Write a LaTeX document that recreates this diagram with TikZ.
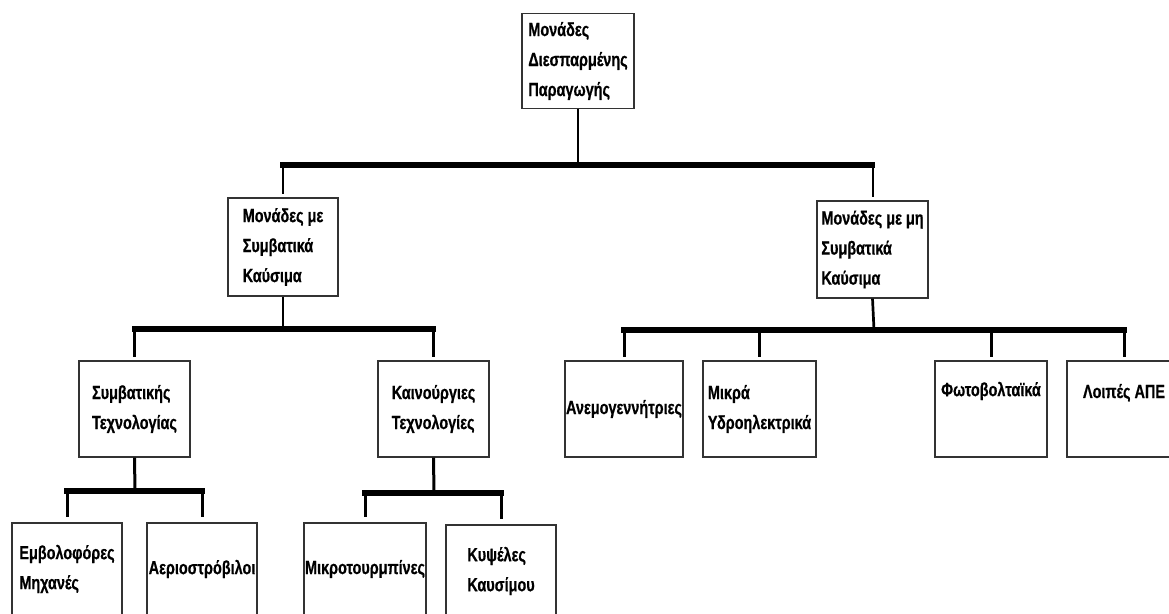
\documentclass[tikz,border=0pt]{standalone}
\usepackage{fontspec}
\setmainfont{Liberation Sans}[FakeStretch=0.76,BoldFont={Liberation Sans Bold},BoldFeatures={FakeStretch=0.76,FakeBold=0.6}]
\usepackage{tikz}

\begin{document}
\begin{tikzpicture}[x=1pt,y=-1pt,font=\fontsize{19}{30}\selectfont\bfseries]
		\useasboundingbox (0,0) rectangle (1169,613);
		\clip (0,0) rectangle (1169,613);
		\tikzstyle{Unit}=[draw=black!80,line width=1.2pt,rectangle,align=left,inner sep=2pt,minimum width=111,minimum height=96]
		\tikzstyle{Stem}=[line width=2pt]
		\tikzstyle{Drop}=[line width=3pt]
		\tikzstyle{Bar}=[line width=5.5pt,line cap=rect]
		% top
		\node[Unit,minimum width=112,minimum height=95] (MDP) at (578,61) {Μονάδες\\Διεσπαρμένης\\Παραγωγής};
		% first level
		\node[Unit,minimum width=110,minimum height=98] (MSK) at (283,247) {Μονάδες με\\Συμβατικά\\Καύσιμα};
		\node[Unit,minimum height=97] (MMSK) at (872.5,249.5) {Μονάδες με μη\\Συμβατικά\\Καύσιμα};
		% second level
		\node[Unit] (ST) at (134.5,409) {Συμβατικής\\Τεχνολογίας};
		\node[Unit] (KT) at (433.5,409) {Καινούργιες\\Τεχνολογίες};
		\node[Unit,minimum width=118,inner sep=0pt] (AN) at (624,409) {Ανεμογεννήτριες};
		\node[Unit,minimum width=113,inner sep=0pt] (MY) at (759.5,409) {Μικρά\\Υδροηλεκτρικά};
		\node[Unit,minimum width=112] (FB) at (991,409) {Φωτοβολταϊκά\\[10pt]};
		\node[Unit,minimum width=114] (LA) at (1124,409) {Λοιπές ΑΠΕ\\[6pt]};
		% third level
		{
			\tikzset{Unit/.append style={minimum width=110,minimum height=92}}
			\node[Unit] (EM) at (67,569) {Εμβολοφόρες\\Μηχανές};
			\node[Unit,inner sep=0pt] (AE) at (202,569) {Αεριοστρόβιλοι};
			\node[Unit,minimum width=122,inner sep=0pt] (MT) at (365,569) {Μικροτουρμπίνες};
			\node[Unit] (KY) at (501,571) {Κυψέλες\\Καυσίμου};
		}
		% junctions
		\coordinate (J1) at (578,165);
		\coordinate (J2) at (283,329);
		\coordinate (J3) at (874,330);
		\coordinate (J4) at (135,491);
		\coordinate (J5) at (434,493);
		% connectors
		\draw[Stem] (MDP.south) -- (J1);
		\draw[Stem,shorten >=3pt] (MSK.north |- J1) -- (MSK.north);
		\draw[Stem,shorten >=3pt] (MMSK.north |- J1) -- (MMSK.north);
		\draw[Bar] (MSK.north |- J1) -- (MMSK.north |- J1);
		{
			\tikzstyle{Stem}=[line width=2.7pt]
			\draw[Stem] (MSK.south) -- (J2);
			\draw[Stem] (MMSK.south) -- (J3);
			\draw[Drop] (ST.south) -- (J4);
			\draw[Drop] (KT.south) -- (J5);
		}
		\foreach \a/\b in {J2/ST,J2/KT,J3/AN,J3/MY,J3/FB,J3/LA}
			\draw[Drop,shorten >=3pt] (\b.north |- \a) -- (\b.north);
		\foreach \a/\b in {J4/EM,J4/AE,J5/MT,J5/KY}
			\draw[Drop,shorten >=5pt] (\b.north |- \a) -- (\b.north);
		\draw[Bar] (ST.north |- J2) -- (KT.north |- J2);
		\draw[Bar] (AN.north |- J3) -- (LA.north |- J3);
		\draw[Bar] (EM.north |- J4) -- (AE.north |- J4);
		\draw[Bar] (MT.north |- J5) -- (KY.north |- J5);
		%\draw[red] (0,0) grid[step=100] (1169,613);
	\end{tikzpicture}
\end{document}
